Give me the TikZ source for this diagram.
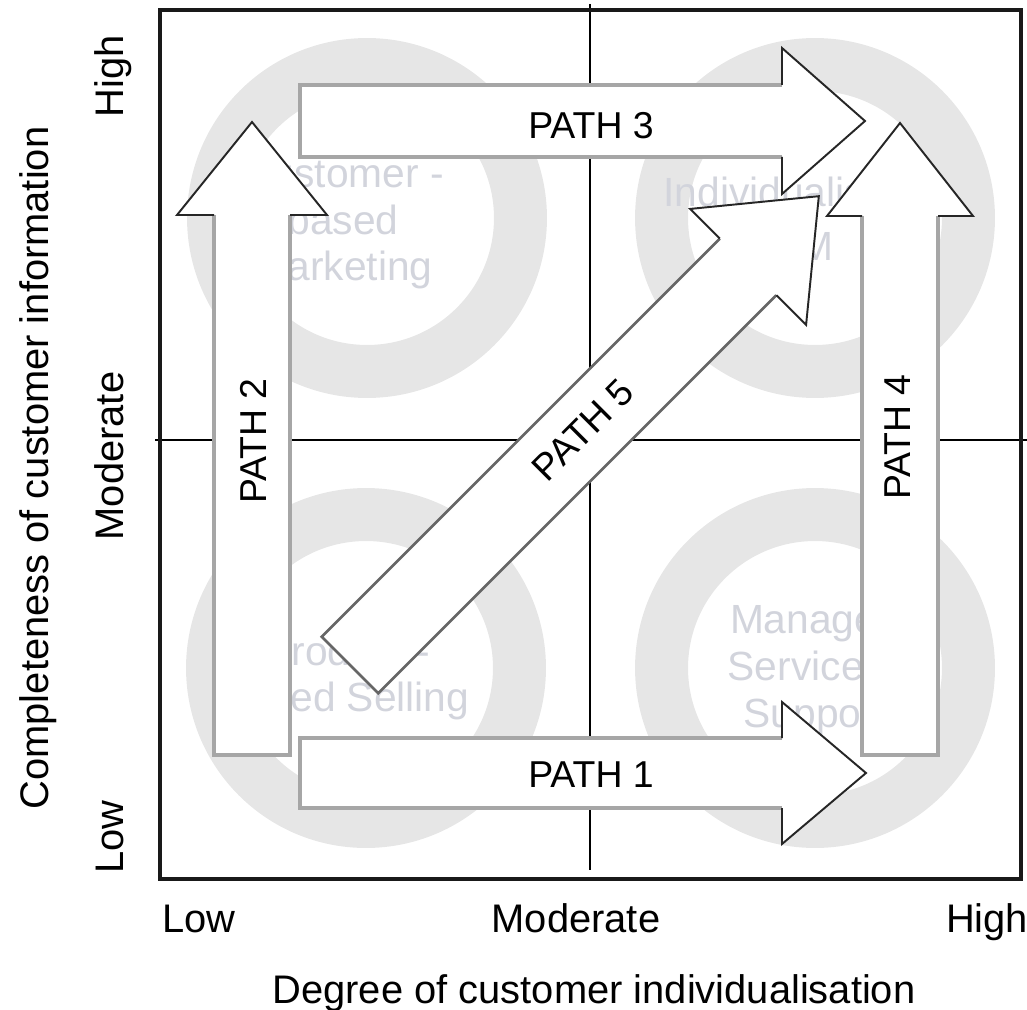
\documentclass[tikz,border=0pt]{standalone}
\usepackage{fontspec}
\setmainfont{Liberation Sans}
\usetikzlibrary{calc}
\definecolor{ringgray}{RGB}{230,230,230}
\definecolor{fadetext}{RGB}{210,212,220}
\tikzset{
	axislabel/.style={font=\fontsize{22.7}{27}\selectfont},
	pathlabel/.style={font=\fontsize{21.3}{25}\selectfont},
	quadlabel/.style={font=\fontsize{23.2}{26.6}\selectfont, text=fadetext, align=center},
	shaftedge/.style={line width=2pt, color=black!35},
	headedge/.style={line width=1.1pt, color=black!85}
}
\def\blockarrow[#1](#2)(#3:#4:#5:#6:#7){%
	\begin{scope}[shift={(#2)},rotate=#3]
	\fill[white] (0,-#5) -- ({#4-#7},-#5) -- ({#4-#7},-#6) -- (#4,0) -- ({#4-#7},#6) -- ({#4-#7},#5) -- (0,#5) -- cycle;
	\draw[shaftedge,#1] ({#4-#7},-#5) -- (0,-#5) -- (0,#5) -- ({#4-#7},#5);
	\draw[headedge] ({#4-#7},-#5) -- ({#4-#7},-#6) -- (#4,0) -- ({#4-#7},#6) -- ({#4-#7},#5);
	\end{scope}}

\begin{document}
\begin{tikzpicture}[x=0.02cm, y=-0.02cm]
		%%%%% START %%%%%
		\useasboundingbox (0,0) rectangle (1027,1010);
		
		\fill[ringgray, even odd rule] (367,218) circle (3.6cm) (367,218) circle (2.54cm);
		\fill[ringgray, even odd rule] (815,218) circle (3.6cm) (815,218) circle (2.54cm);
		\fill[ringgray, even odd rule] (366,668) circle (3.6cm) (366,668) circle (2.54cm);
		\fill[ringgray, even odd rule] (815,668) circle (3.6cm) (815,668) circle (2.54cm);
		
		\node[quadlabel] (custmkt) at (343,224) {Customer -\\based\\Marketing};
		\node[quadlabel] (indcrm) at (787,219) {Individualised\\[4pt]CRM};
		\node[quadlabel] (prodsell) at (347,678) {Product -\\based Selling};
		\node[quadlabel] (mansupp) at (815,670) {Managed\\Service \&\\Support};
		
		\draw[line width=1pt] (155,440) -- (1027,440);
		\draw[line width=1pt] (590,4) -- (590,870);
		\draw[line width=2pt, color=black!90] (160,10) rectangle (1021,879);
		
		\blockarrow[](300,773)(0:566:35:71:84);
		\blockarrow[](300,121)(0:565:36:73:83);
		\blockarrow[](252,755)(90:633:38:75:93);
		\blockarrow[](900,755)(90:632:38:73:93);
		\blockarrow[line width=1.5pt, color=black!60](350,665)(45:663:40:82:100);
		
		\node[pathlabel] (path1) at (591,775) {PATH 1};
		\node[pathlabel] (path3) at (591,126) {PATH 3};
		\node[pathlabel, rotate=90] (path2) at (253,441) {PATH 2};
		\node[pathlabel, rotate=90] (path4) at (898,437) {PATH 4};
		\node[pathlabel, rotate=45] (path5) at (583,430) {PATH 5};
		
		\node[axislabel, anchor=base] (xlow) at (199,932) {Low};
		\node[axislabel, anchor=base] (xmod) at (576,932) {Moderate};
		\node[axislabel, anchor=base] (xhigh) at (987,932) {High};
		\node[axislabel, anchor=base] (xtitle) at (594,1003) {Degree of customer individualisation};
		
		\node[axislabel, anchor=base, rotate=90] (ylow) at (123,837) {Low};
		\node[axislabel, anchor=base, rotate=90] (ymod) at (123,456) {Moderate};
		\node[axislabel, anchor=base, rotate=90] (yhigh) at (123,76) {High};
		\node[axislabel, anchor=base, rotate=90] (ytitle) at (48,468) {Completeness of customer information};
		
		%%%%% END %%%%%
\end{tikzpicture}
\end{document}
